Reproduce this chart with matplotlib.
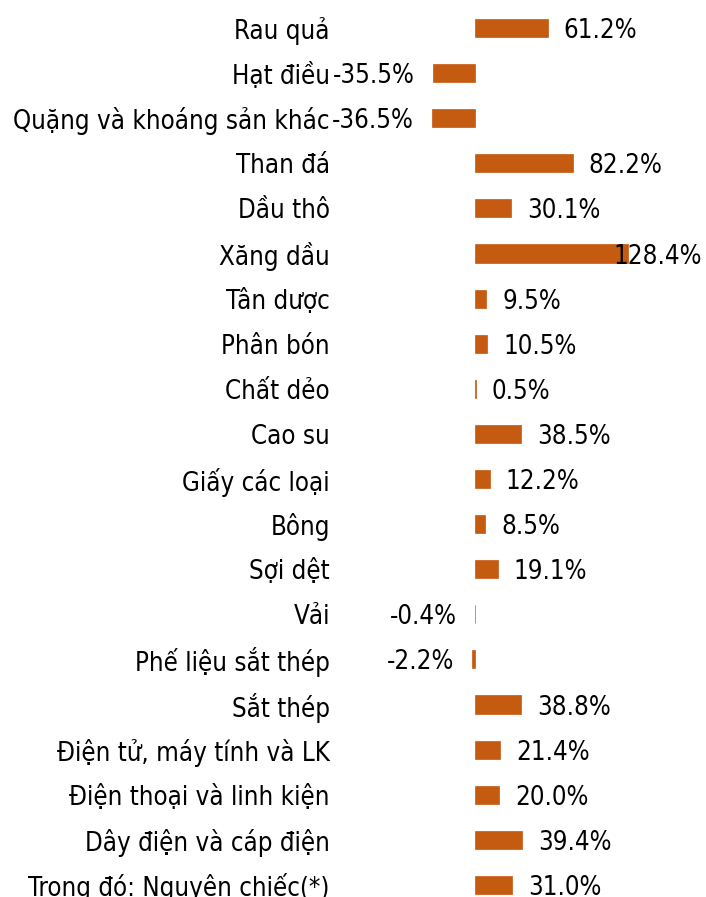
import matplotlib
matplotlib.use("Agg")
import matplotlib.pyplot as plt

categories = ["Rau quả", "Hạt điều", "Quặng và khoáng sản khác", "Than đá", "Dầu thô",
              "Xăng dầu", "Tân dược", "Phân bón", "Chất dẻo", "Cao su",
              "Giấy các loại", "Bông", "Sợi dệt", "Vải", "Phế liệu sắt thép",
              "Sắt thép", "Điện tử, máy tính và LK", "Điện thoại và linh kiện",
              "Dây điện và cáp điện", "Trong đó: Nguyên chiếc(*)"]
values = [61.2, -35.5, -36.5, 82.2, 30.1, 128.4, 9.5, 10.5, 0.5, 38.5,
          12.2, 8.5, 19.1, -0.4, -2.2, 38.8, 21.4, 20.0, 39.4, 31.0]

COLOR = "#C55A11"
FONT = "DejaVu Sans"
STRETCH = "condensed"
FS = 18.5

W, H, DPI = 706, 897, 100
fig = plt.figure(figsize=(W / DPI, H / DPI), dpi=DPI)

zero_px = 475.0
scale = 1.19  # px per percent
left_px, right_px = 420.0, 700.0
row = 45.1
first_center = 28.0
n = len(categories)
top_px = first_center - row / 2
bot_px = top_px + row * n

ax = fig.add_axes([left_px / W, 1 - bot_px / H, (right_px - left_px) / W, (bot_px - top_px) / H])
ax.set_xlim((left_px - zero_px) / scale, (right_px - zero_px) / scale)
ax.set_ylim(n - 0.5, -0.5)

ypos = list(range(n))
ax.barh(ypos, values, height=0.4, color=COLOR, edgecolor=COLOR, linewidth=0.5)

for s in ax.spines.values():
    s.set_visible(False)
ax.set_xticks([])
ax.set_yticks(ypos)
ax.set_yticklabels(categories, fontsize=FS, family=FONT, fontstretch=STRETCH)
ax.tick_params(axis="y", length=0, pad=(left_px - 330) * 72 / DPI)

texts = []
for y, v in zip(ypos, values):
    if v >= 0:
        t = ax.annotate(f"{v:.1f}%", xy=(v, y), xytext=(16 * 72 / DPI, 0), textcoords="offset points",
                        ha="left", va="center_baseline", fontsize=FS, family=FONT,
                        fontstretch=STRETCH, color="black")
    else:
        t = ax.annotate(f"{v:.1f}%", xy=(v, y), xytext=(-18 * 72 / DPI, 0), textcoords="offset points",
                        ha="right", va="center_baseline", fontsize=FS, family=FONT,
                        fontstretch=STRETCH, color="black")
    texts.append(t)

# push labels that overflow the figure back inside (like the original's data-label behavior)
fig.canvas.draw()
r = fig.canvas.get_renderer()
for t in texts:
    bb = t.get_window_extent(r)
    if bb.x1 > W - 4:
        shift = bb.x1 - (W - 4)
        ox, oy = t.xyann
        t.xyann = (ox - shift * 72 / DPI, oy)

fig.savefig("out.png", dpi=DPI)
